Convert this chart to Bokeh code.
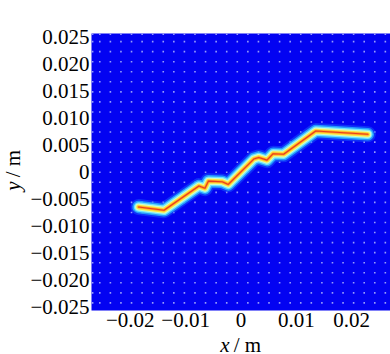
import numpy as np
from bokeh.plotting import figure
from bokeh.layouts import row, column
from bokeh.models import FixedTicker, Label, Range1d
from bokeh.embed import file_html
from bokeh.resources import INLINE

# Axis ticks and their labels
x_ticks = [-0.02, -0.01, 0, 0.01, 0.02]
x_tick_labels = ["\u22120.02", "\u22120.01", "0", "0.01", "0.02"]
y_ticks = [0.025, 0.02, 0.015, 0.01, 0.005, 0, -0.005, -0.01, -0.015, -0.02, -0.025]
y_tick_labels = ["0.025", "0.020", "0.015", "0.010", "0.005", "0",
                 "\u22120.005", "\u22120.010", "\u22120.015", "\u22120.020", "\u22120.025"]

# Crack path (m)
path_x = [-0.0185, -0.0139, -0.0076, -0.0065, -0.0059, -0.0034, -0.0023,
          0.0023, 0.0032, 0.0047, 0.0058, 0.0077, 0.0135, 0.0229]
path_y = [-0.0065, -0.0071, -0.0026, -0.0030, -0.0017, -0.0018, -0.0023,
          0.0024, 0.0027, 0.0022, 0.0034, 0.0033, 0.0076, 0.0070]

# Mesh nodes (m)
node_x = np.r_[-0.0268, np.arange(-0.0255, 0.0270, 0.00191)]
node_y = np.r_[0.02555, np.arange(0.0242, -0.0250, -0.001865)]

X_RANGE = (-0.027, 0.027)
Y_RANGE = (-0.0257, 0.0257)
SERIF = "Liberation Serif"
FONT_SIZE = "21px"

YLAB_W = 27
MAIN_W, MAIN_H = 390 - YLAB_W, 335
XLAB_H = 354 - MAIN_H

# ---- main field plot ----
p = figure(width=MAIN_W, height=MAIN_H, x_range=X_RANGE, y_range=Y_RANGE,
           output_backend="svg", toolbar_location=None,
           min_border_left=63, min_border_right=0,
           min_border_top=33, min_border_bottom=25)
p.background_fill_color = "#0303f2"
p.border_fill_color = "white"
p.outline_line_color = None
p.grid.visible = False

gx, gy = np.meshgrid(node_x, node_y)
p.scatter(gx.ravel(), gy.ravel(), marker="square", size=1.6,
          fill_color="#c8d0ff", line_color=None, fill_alpha=0.75)

# crack damage band, drawn from the outside in
layers = [("#1a66ff", 16, 0.45), ("#28aaff", 12.5, 0.85), ("#6fe4ff", 9.5, 1.0),
          ("#d4ffc0", 7, 1.0), ("#ffe43c", 4.8, 1.0), ("#ff9420", 2.6, 0.9),
          ("#e0201a", 1.1, 0.75)]
for color, w, a in layers:
    p.line(path_x, path_y, line_color=color, line_width=w, line_alpha=a,
           line_join="round", line_cap="round")

for ax in (p.xaxis[0], p.yaxis[0]):
    ax.axis_line_color = None
    ax.major_tick_line_color = None
    ax.minor_tick_line_color = None
    ax.major_tick_out = 0
    ax.major_tick_in = 0
    ax.minor_tick_out = 0
    ax.major_label_text_font = SERIF
    ax.major_label_text_font_size = FONT_SIZE
    ax.major_label_text_color = "black"
    ax.major_label_standoff = 2

p.xaxis.ticker = FixedTicker(ticks=x_ticks)
p.xaxis.major_label_overrides = dict(zip(x_ticks, x_tick_labels))
p.yaxis.ticker = FixedTicker(ticks=y_ticks)
p.yaxis.major_label_overrides = dict(zip(y_ticks, y_tick_labels))


def title_strip(width, height):
    """Blank strip whose data units are its own pixels (y downwards)."""
    f = figure(width=width, height=height, x_range=Range1d(0, width),
               y_range=Range1d(height, 0), output_backend="svg",
               toolbar_location=None, x_axis_type=None, y_axis_type=None,
               min_border=0)
    f.outline_line_color = None
    f.grid.visible = False
    f.background_fill_color = "white"
    f.border_fill_color = "white"
    return f


style = dict(text_font=SERIF, text_font_size=FONT_SIZE, text_baseline="alphabetic",
             text_color="black")

# x title: italic symbol, upright unit
XL_ANCHOR = 167.5
xl = title_strip(MAIN_W, XLAB_H)
xl.add_layout(Label(x=XL_ANCHOR, y=9.5, text="x", text_font_style="italic",
                    text_align="right", **style))
xl.add_layout(Label(x=XL_ANCHOR, y=9.5, text="\u2009/ m", text_align="left", **style))

# y title, rotated
yl = title_strip(YLAB_W, 354)
yl.add_layout(Label(x=12.5, y=181, text="y", text_font_style="italic",
                    text_align="right", angle=np.pi / 2, **style))
yl.add_layout(Label(x=12.5, y=181, text="\u2009/ m", text_align="left",
                    angle=np.pi / 2, **style))

layout = row(yl, column(p, xl, spacing=0), spacing=0)

open("out.html", "w").write(file_html(layout, INLINE))
